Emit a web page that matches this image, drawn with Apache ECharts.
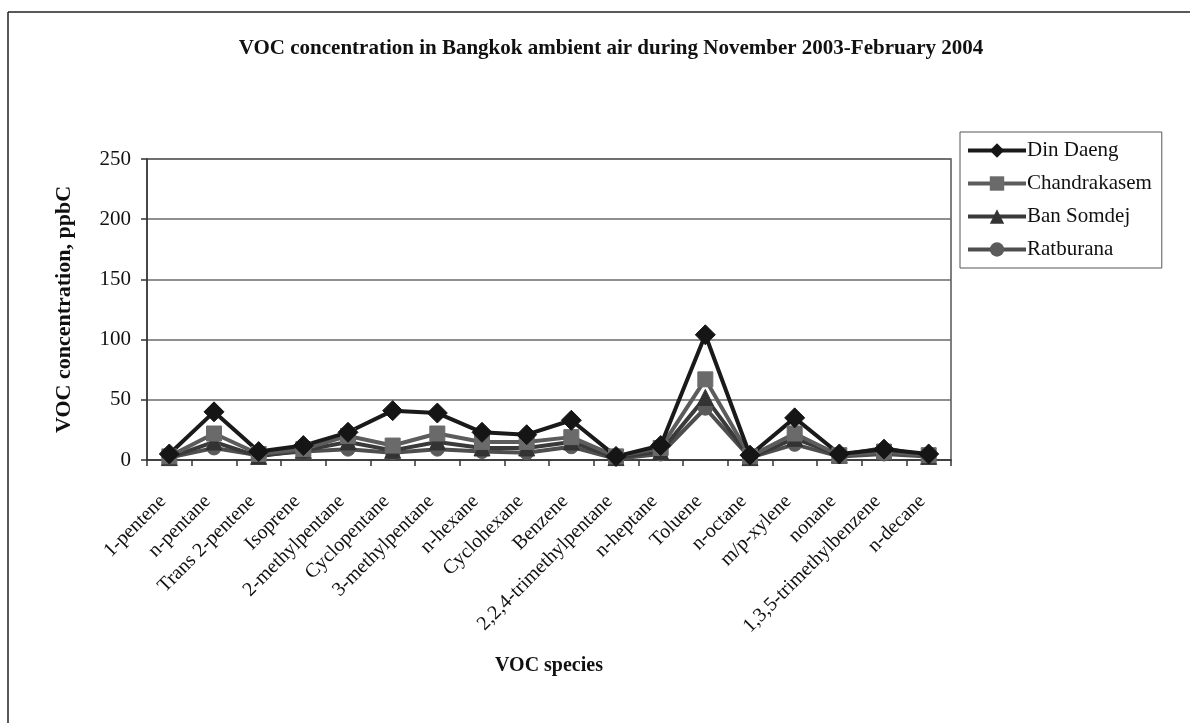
<!DOCTYPE html>
<html>
<head>
<meta charset="utf-8">
<script src="https://cdn.jsdelivr.net/npm/echarts@6/dist/echarts.min.js"></script>
<style>
  html, body { margin: 0; padding: 0; background: #ffffff; }
  #chart { width: 1195px; height: 723px; }
</style>
</head>
<body>
<div id="chart"></div>
<script>
// VOC species measured at the four Bangkok stations
const species = [
  '1-pentene', 'n-pentane', 'Trans 2-pentene', 'Isoprene', '2-methylpentane',
  'Cyclopentane', '3-methylpentane', 'n-hexane', 'Cyclohexane', 'Benzene',
  '2,2,4-trimethylpentane', 'n-heptane', 'Toluene', 'n-octane', 'm/p-xylene',
  'nonane', '1,3,5-trimethylbenzene', 'n-decane'
];

// Mean concentrations, ppbC
const dinDaeng     = [5, 40, 7, 12, 23, 41, 39, 23, 21, 33, 3, 12, 104, 4, 35, 5, 9, 5];
const chandrakasem = [3, 22, 5, 9, 20, 12, 22, 15, 15, 19, 3, 10, 67, 3, 22, 4, 7, 4];
const banSomdej    = [2, 15, 3, 8, 15, 8, 15, 10, 10, 15, 2, 7, 52, 2, 18, 4, 10, 3];
const ratburana    = [2, 10, 4, 7, 9, 6, 9, 7, 6, 11, 1, 5, 43, 2, 13, 3, 5, 3];

const yTicks = { min: 0, max: 250, interval: 50 };

const serif = "'Liberation Serif', 'DejaVu Serif', serif";

const chart = echarts.init(document.getElementById('chart'), null, { renderer: 'canvas' });

function station(name, values, symbol, size, color, lineColor) {
  return {
    name: name,
    type: 'line',
    data: values,
    symbol: symbol,
    symbolSize: size,
    showSymbol: true,
    lineStyle: { color: lineColor, width: 4 },
    itemStyle: { color: color, borderColor: color },
    emphasis: { disabled: true },
    animation: false
  };
}

chart.setOption({
  backgroundColor: '#ffffff',
  animation: false,
  title: {
    text: 'VOC concentration in Bangkok ambient air during November 2003-February 2004',
    left: 606,
    top: 33,
    textAlign: 'center',
    textStyle: { fontFamily: serif, fontWeight: 'bold', fontSize: 21, color: '#111' }
  },
  legend: {
    orient: 'vertical',
    left: 960,
    top: 132,
    width: 210,
    padding: [8, 10, 8, 6],
    itemWidth: 58,
    itemHeight: 18,
    itemGap: 12,
    borderColor: '#555',
    borderWidth: 1,
    backgroundColor: '#fff',
    lineStyle: { width: 4 },
    textStyle: { fontFamily: serif, fontSize: 21, color: '#111', padding: [0, 0, 0, -4] },
    data: ['Din Daeng', 'Chandrakasem', 'Ban Somdej', 'Ratburana']
  },
  grid: {
    left: 147,
    right: 244,
    top: 159,
    bottom: 263,
    show: true,
    borderColor: '#555',
    borderWidth: 1.5
  },
  xAxis: {
    type: 'category',
    data: species,
    boundaryGap: true,
    name: 'VOC species',
    nameLocation: 'middle',
    nameGap: 196,
    nameTextStyle: { fontFamily: serif, fontWeight: 'bold', fontSize: 20, color: '#111' },
    axisLine: { lineStyle: { color: '#333', width: 1.5 } },
    axisTick: { show: true, length: 6, lineStyle: { color: '#333', width: 1.5 } },
    axisLabel: {
      interval: 0,
      rotate: 45,
      margin: 32,
      padding: [0, 9, 0, 0],
      fontFamily: serif,
      fontSize: 20,
      color: '#111'
    },
    splitLine: { show: false }
  },
  yAxis: {
    type: 'value',
    min: yTicks.min,
    max: yTicks.max,
    interval: yTicks.interval,
    name: 'VOC concentration, ppbC',
    nameLocation: 'middle',
    nameGap: 72,
    nameRotate: 90,
    nameTextStyle: { fontFamily: serif, fontWeight: 'bold', fontSize: 22, color: '#111' },
    axisLine: { show: true, lineStyle: { color: '#333', width: 1.5 } },
    axisTick: { show: true, length: 6, lineStyle: { color: '#333', width: 1.5 } },
    axisLabel: { fontFamily: serif, fontSize: 21, color: '#111', margin: 16 },
    splitLine: { lineStyle: { color: '#6a6a6a', width: 1.5 } }
  },
  series: [
    station('Ratburana', ratburana, 'circle', 14, '#5a5a5a', '#4e4e4e'),
    station('Ban Somdej', banSomdej, 'triangle', 16, '#333333', '#3a3a3a'),
    station('Chandrakasem', chandrakasem, 'rect', 15, '#6a6a6a', '#5c5c5c'),
    station('Din Daeng', dinDaeng, 'diamond', 20, '#151515', '#1a1a1a')
  ],
  graphic: [
    // frame around the figure (top and left edges)
    { type: 'line', shape: { x1: 8, y1: 12, x2: 1190, y2: 12 }, style: { stroke: '#222', lineWidth: 1.5 } },
    { type: 'line', shape: { x1: 8, y1: 12, x2: 8, y2: 723 }, style: { stroke: '#222', lineWidth: 1.5 } }
  ]
});
</script>
</body>
</html>
